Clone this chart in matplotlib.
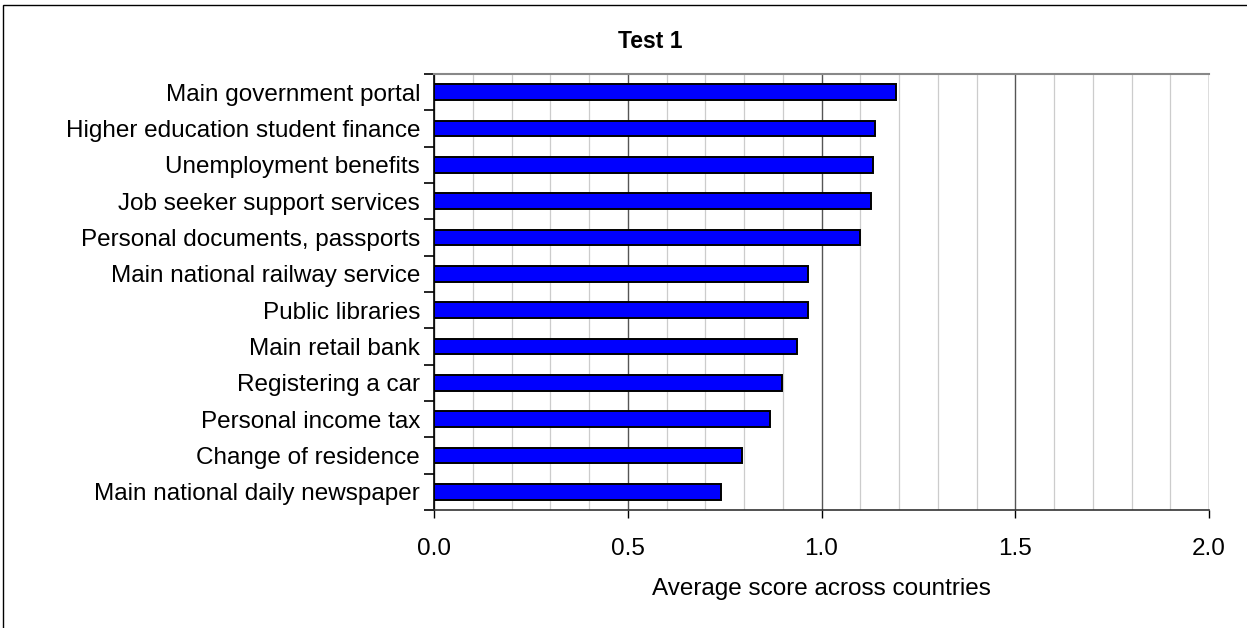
import numpy as np
import matplotlib.pyplot as plt
from matplotlib.patches import Rectangle
from matplotlib.ticker import MultipleLocator, FixedLocator, FormatStrFormatter

plt.rcParams["font.family"] = ["Liberation Sans", "DejaVu Sans"]

services = [
    "Main government portal",
    "Higher education student finance",
    "Unemployment benefits",
    "Job seeker support services",
    "Personal documents, passports",
    "Main national railway service",
    "Public libraries",
    "Main retail bank",
    "Registering a car",
    "Personal income tax",
    "Change of residence",
    "Main national daily newspaper",
]
scores = [1.192, 1.137, 1.132, 1.127, 1.099, 0.966, 0.966, 0.936, 0.898, 0.868, 0.794, 0.740]

fig = plt.figure(figsize=(12.47, 6.28), dpi=100)
ax = fig.add_axes([434 / 1247, 1 - 510 / 628, 775 / 1247, 436 / 628])

y = np.arange(len(services))[::-1]
ax.barh(y, scores, height=0.44, color="#0000FF", edgecolor="black", linewidth=1.4, zorder=3)

ax.set_xlim(0, 2.0)
ax.set_ylim(-0.5, len(services) - 0.5)

ax.xaxis.set_major_locator(MultipleLocator(0.5))
ax.xaxis.set_minor_locator(MultipleLocator(0.1))
ax.xaxis.set_major_formatter(FormatStrFormatter("%.1f"))
ax.grid(which="minor", axis="x", color="#cccccc", linewidth=0.9, zorder=0)
ax.grid(which="major", axis="x", color="#555555", linewidth=1.0, zorder=1)

ax.set_yticks(y)
ax.set_yticklabels(services, fontsize=17.5)
ax.yaxis.set_minor_locator(FixedLocator(np.arange(-0.5, len(services), 1.0)))
ax.tick_params(axis="y", which="major", length=0, pad=10)
ax.tick_params(axis="y", which="minor", length=7, width=1.2, color="black")
ax.tick_params(axis="x", which="major", labelsize=17.5, length=6, width=1.0, pad=14)
ax.tick_params(axis="x", which="minor", length=0)

ax.spines["right"].set_visible(False)
ax.spines["top"].set_color("#888888")
ax.spines["top"].set_linewidth(1.5)
ax.spines["left"].set_linewidth(1.2)
ax.spines["bottom"].set_linewidth(1.2)
ax.spines["bottom"].set_color("#333333")

ax.set_xlabel("Average score across countries", fontsize=17.5, labelpad=13)
fig.text(650 / 1247, 1 - 42 / 628, "Test 1", ha="center", va="center",
         fontsize=16.5, fontweight="bold")

# outer frame around the chart area
fig.patches.append(Rectangle((3 / 1247, -0.01), 1.1, 1 - 5 / 628 + 0.01,
                             transform=fig.transFigure, fill=False,
                             edgecolor="black", linewidth=1.0))

fig.savefig("out.png", dpi=100)
